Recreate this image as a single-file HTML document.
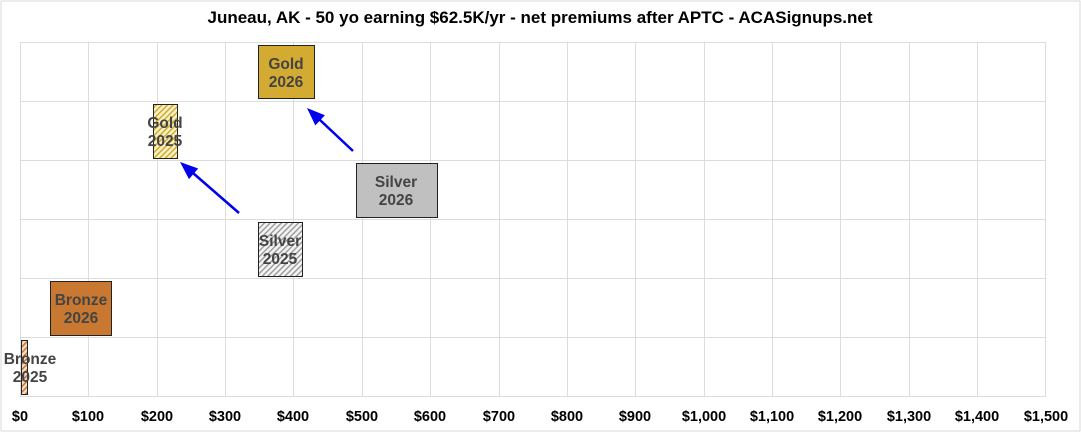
<!DOCTYPE html>
<html><head><meta charset="utf-8"><style>
body{margin:0;background:#fff;}
svg{display:block;font-family:"Liberation Sans",Arial,sans-serif;}
</style></head><body>
<svg width="1081" height="432" viewBox="0 0 1081 432" xmlns="http://www.w3.org/2000/svg">
<defs>
<pattern id="hg" width="4" height="4" patternUnits="userSpaceOnUse" patternTransform="rotate(45)">
<rect width="4" height="4" fill="#fbf0c0"/><rect width="1.4" height="4" fill="#c9a830"/></pattern>
<pattern id="hs" width="4" height="4" patternUnits="userSpaceOnUse" patternTransform="rotate(45)">
<rect width="4" height="4" fill="#f4f4f4"/><rect width="1.4" height="4" fill="#999"/></pattern>
<pattern id="hb" width="4" height="4" patternUnits="userSpaceOnUse" patternTransform="rotate(45)">
<rect width="4" height="4" fill="#f6dcc0"/><rect width="1.4" height="4" fill="#c07030"/></pattern>
</defs>
<rect x="1" y="1" width="1079" height="430" fill="#fff" stroke="#d9d9d9"/>
<text x="540" y="23" text-anchor="middle" font-size="17" font-weight="bold" fill="#000">Juneau, AK - 50 yo earning $62.5K/yr - net premiums after APTC - ACASignups.net</text>
<g stroke="#dcdcdc" stroke-width="1">
<line x1="20.5" y1="42.5" x2="1046" y2="42.5"/><line x1="20.5" y1="101.5" x2="1046" y2="101.5"/>
<line x1="20.5" y1="160.5" x2="1046" y2="160.5"/><line x1="20.5" y1="219.5" x2="1046" y2="219.5"/>
<line x1="20.5" y1="278.5" x2="1046" y2="278.5"/><line x1="20.5" y1="337.5" x2="1046" y2="337.5"/>
<line x1="20.5" y1="396.5" x2="1046" y2="396.5"/>
<line x1="20.5" y1="42" x2="20.5" y2="397"/><line x1="88.5" y1="42" x2="88.5" y2="397"/>
<line x1="157.5" y1="42" x2="157.5" y2="397"/><line x1="225.5" y1="42" x2="225.5" y2="397"/>
<line x1="293.5" y1="42" x2="293.5" y2="397"/><line x1="362.5" y1="42" x2="362.5" y2="397"/>
<line x1="430.5" y1="42" x2="430.5" y2="397"/><line x1="499.5" y1="42" x2="499.5" y2="397"/>
<line x1="567.5" y1="42" x2="567.5" y2="397"/><line x1="635.5" y1="42" x2="635.5" y2="397"/>
<line x1="704.5" y1="42" x2="704.5" y2="397"/><line x1="772.5" y1="42" x2="772.5" y2="397"/>
<line x1="840.5" y1="42" x2="840.5" y2="397"/><line x1="909.5" y1="42" x2="909.5" y2="397"/>
<line x1="977.5" y1="42" x2="977.5" y2="397"/><line x1="1045.5" y1="42" x2="1045.5" y2="397"/>
</g>
<g font-size="14.5" font-weight="bold" fill="#000" text-anchor="middle">
<text x="20" y="421">$0</text><text x="88" y="421">$100</text><text x="157" y="421">$200</text>
<text x="225" y="421">$300</text><text x="293" y="421">$400</text><text x="362" y="421">$500</text>
<text x="430" y="421">$600</text><text x="499" y="421">$700</text><text x="567" y="421">$800</text>
<text x="635" y="421">$900</text><text x="704" y="421">$1,000</text><text x="772" y="421">$1,100</text>
<text x="840" y="421">$1,200</text><text x="909" y="421">$1,300</text><text x="977" y="421">$1,400</text>
<text x="1046" y="421">$1,500</text>
</g>
<g stroke="#222" stroke-width="1">
<rect x="258.5" y="45.5" width="56" height="53" fill="#d4ab32"/>
<rect x="153.5" y="104.5" width="24" height="54" fill="url(#hg)"/>
<rect x="356.5" y="163.5" width="81" height="54" fill="#c0c0c0"/>
<rect x="258.5" y="222.5" width="44" height="54" fill="url(#hs)"/>
<rect x="50.5" y="281.5" width="61" height="54" fill="#c87830"/>
<rect x="21.5" y="340.5" width="6" height="54" fill="url(#hb)"/>
</g>
<g stroke="#0000ee" stroke-width="2.5">
<line x1="239" y1="213" x2="193" y2="173"/>
<line x1="353" y1="151" x2="320" y2="120"/>
</g>
<g fill="#0000ee">
<polygon points="180,162 198.2,168.5 189,179.1"/>
<polygon points="307,108 324.9,115.2 315.3,125.4"/>
</g>
<g font-size="15.5" font-weight="bold" fill="#444" text-anchor="middle">
<text x="286" y="69">Gold</text><text x="286" y="87">2026</text>
<text x="165" y="128">Gold</text><text x="165" y="146">2025</text>
<text x="396" y="187">Silver</text><text x="396" y="205">2026</text>
<text x="280" y="246">Silver</text><text x="280" y="264">2025</text>
<text x="81" y="305">Bronze</text><text x="81" y="323">2026</text>
<text x="30" y="364">Bronze</text><text x="30" y="382">2025</text>
</g>
</svg>
</body></html>
